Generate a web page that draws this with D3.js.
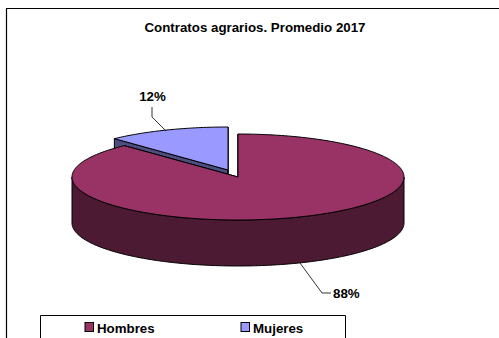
<!DOCTYPE html>
<html>
<head>
<meta charset="utf-8">
<script src="https://cdn.jsdelivr.net/npm/d3@7"></script>
<style>
html, body { margin: 0; padding: 0; background: #fff; overflow: hidden; }
svg { display: block; }
text { font-family: "Liberation Sans", Arial, sans-serif; font-weight: bold; fill: #000; }
</style>
</head>
<body>
<svg width="499" height="338"></svg>
<script>
var categories = ['Hombres', 'Mujeres'];
var values = [88, 12];
var labels = ['88%', '12%'];
var colors = ['#993366', '#9999ff'];
var sideColors = ['#4d1a33', '#4d4d80'];

var width = 499;
var height = 338;
var fontSize = 13.3;
var svg = d3.select('svg');

// plot geometry of the tilted pie
var cx = 238, cy = 177, rx = 166, ry = 43, depth = 46;
var explode = [[0, 0], [-10, -7]];

var pie = d3.pie().sort(null).value(d => d);
var slices = pie(values);

var line = d3.line();

function project(angle, off, dy) {
    return [
        cx + off[0] + rx * Math.sin(angle),
        cy + off[1] + (dy || 0) - ry * Math.cos(angle)
    ];
}

function sweep(a0, a1, off, dy) {
    var n = Math.max(2, Math.ceil((a1 - a0) * 60));
    return d3.range(n + 1).map(i => project(a0 + (a1 - a0) * i / n, off, dy));
}

// chart frame, runs past the right and bottom of the picture
svg.append('path')
    .attr('d', line([[6.5, height + 2], [6.5, 8.5], [width + 2, 8.5]]))
    .attr('fill', 'none')
    .attr('stroke', '#000')
    .attr('stroke-width', 1.2);

svg.append('text')
    .attr('x', 255)
    .attr('y', 32)
    .attr('text-anchor', 'middle')
    .attr('font-size', fontSize)
    .text('Contratos agrarios. Promedio 2017');

function drawSlice(i) {
    var d = slices[i];
    var off = explode[i];
    var g = svg.append('g');
    var apex = [cx + off[0], cy + off[1]];

    // cut faces
    [d.startAngle, d.endAngle].forEach(a => {
        var p = project(a, off);
        g.append('path')
            .attr('d', line([apex, p, [p[0], p[1] + depth], [apex[0], apex[1] + depth]]) + 'Z')
            .attr('fill', sideColors[i])
            .attr('stroke', '#000')
            .attr('stroke-width', 1);
    });

    // outer wall, only the front half of the ellipse shows
    var a0 = Math.max(d.startAngle, Math.PI / 2);
    var a1 = Math.min(d.endAngle, Math.PI * 3 / 2);
    if (a1 > a0) {
        var wall = sweep(a0, a1, off).concat(sweep(a0, a1, off, depth).reverse());
        g.append('path')
            .attr('d', line(wall) + 'Z')
            .attr('fill', sideColors[i])
            .attr('stroke', '#000')
            .attr('stroke-width', 1);
    }

    // top face
    g.append('path')
        .attr('d', line([apex].concat(sweep(d.startAngle, d.endAngle, off))) + 'Z')
        .attr('fill', colors[i])
        .attr('stroke', '#000')
        .attr('stroke-width', 1)
        .attr('stroke-linejoin', 'round');
}

drawSlice(1);
drawSlice(0);

// leader lines and data labels
var leaders = [
    [[300, 263], [322, 293], [331, 293]],
    [[166, 131], [152, 117], [152, 107]]
];
var labelPos = [[333, 298], [152.5, 101]];
var labelAnchor = ['start', 'middle'];

leaders.forEach(pts => {
    svg.append('path')
        .attr('d', line(pts))
        .attr('fill', 'none')
        .attr('stroke', '#000')
        .attr('stroke-width', 0.8);
});

labels.forEach((t, i) => {
    svg.append('text')
        .attr('x', labelPos[i][0])
        .attr('y', labelPos[i][1])
        .attr('text-anchor', labelAnchor[i])
        .attr('font-size', fontSize)
        .text(t);
});

// legend, cut by the bottom of the picture
svg.append('path')
    .attr('d', line([[40.5, height + 2], [40.5, 315.5], [345.5, 315.5], [345.5, height + 2]]))
    .attr('fill', 'none')
    .attr('stroke', '#000')
    .attr('stroke-width', 1);

var legendX = [84.5, 240.5];
categories.forEach((c, i) => {
    svg.append('rect')
        .attr('x', legendX[i] + 0.5)
        .attr('y', 322.5)
        .attr('width', 8.5)
        .attr('height', 9)
        .attr('fill', colors[i])
        .attr('stroke', '#000')
        .attr('stroke-width', 1);
    svg.append('text')
        .attr('x', legendX[i] + 12.5)
        .attr('y', 333)
        .attr('font-size', fontSize)
        .text(c);
});
</script>
</body>
</html>
